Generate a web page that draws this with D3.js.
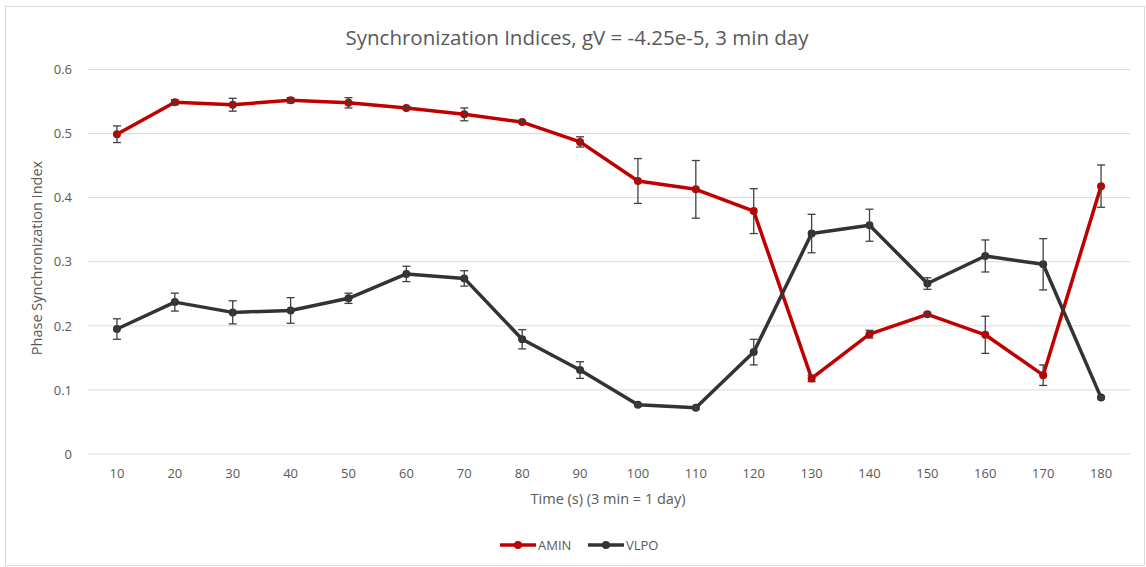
<!DOCTYPE html>
<html>
<head>
<meta charset="utf-8">
<script src="https://cdn.jsdelivr.net/npm/d3@7"></script>
<style>
  body { margin: 0; background: white; }
  text { font-family: "Open Sans", "Noto Sans", sans-serif; fill: #595959; }
</style>
</head>
<body>
<div id="chart"></div>
<script>
var width = 1146,
    height = 567

// data
var times = [10, 20, 30, 40, 50, 60, 70, 80, 90, 100, 110, 120, 130, 140, 150, 160, 170, 180]
var amin = [0.499, 0.549, 0.545, 0.552, 0.548, 0.540, 0.530, 0.518, 0.487, 0.426, 0.413, 0.379, 0.118, 0.187, 0.218, 0.186, 0.123, 0.418]
var aminErr = [0.013, 0.004, 0.010, 0.004, 0.008, 0.002, 0.010, 0.002, 0.008, 0.035, 0.045, 0.035, 0.005, 0.006, 0.003, 0.029, 0.016, 0.033]
var vlpo = [0.195, 0.237, 0.221, 0.224, 0.243, 0.281, 0.274, 0.179, 0.131, 0.077, 0.072, 0.159, 0.344, 0.357, 0.266, 0.309, 0.296, 0.088]
var vlpoErr = [0.016, 0.014, 0.018, 0.020, 0.008, 0.012, 0.012, 0.015, 0.013, 0.002, 0.002, 0.020, 0.030, 0.025, 0.009, 0.025, 0.040, 0.002]
var yTicks = [0, 0.1, 0.2, 0.3, 0.4, 0.5, 0.6]

var series = [
  {name: "AMIN", values: amin, err: aminErr, color: "#c00000"},
  {name: "VLPO", values: vlpo, err: vlpoErr, color: "#333333"}
]

var svg = d3.select("#chart")
  .append("svg")
    .attr("width", width)
    .attr("height", height)

// outer chart border
svg.append("rect")
  .attr("x", 5.5).attr("y", 6.5)
  .attr("width", 1139).attr("height", 559)
  .attr("fill", "white")
  .attr("stroke", "#d9d9d9")

var x = d3.scaleBand()
  .domain(times)
  .range([88, 1130])

var y = d3.scaleLinear()
  .domain([0, 0.6])
  .range([454, 69.5])

// gridlines
svg.append("g")
  .selectAll("line")
  .data(yTicks)
  .enter()
  .append("line")
    .attr("x1", 88).attr("x2", 1130)
    .attr("y1", function(d) { return y(d) })
    .attr("y2", function(d) { return y(d) })
    .attr("stroke", "#d9d9d9")
    .attr("stroke-width", 1)

// y axis labels
var yAxis = svg.append("g")
  .attr("transform", "translate(88,0)")
  .call(d3.axisLeft(y).tickValues(yTicks).tickSize(0).tickPadding(16).tickFormat(function(d) { return d === 0 ? "0" : d3.format(".1f")(d) }))
yAxis.select(".domain").remove()
yAxis.selectAll("text").style("font-size", "13px").attr("fill", "#595959").style("font-family", "'Open Sans', sans-serif")

// x axis labels
var xAxis = svg.append("g")
  .attr("transform", "translate(0,454)")
  .call(d3.axisBottom(x).tickSize(0).tickPadding(15))
xAxis.select(".domain").remove()
xAxis.selectAll("text").style("font-size", "13px").attr("fill", "#595959").style("font-family", "'Open Sans', sans-serif")

// titles
svg.append("text")
  .attr("x", 577).attr("y", 45)
  .attr("text-anchor", "middle")
  .style("font-size", "20.5px")
  .text("Synchronization Indices, gV = -4.25e-5, 3 min day")

svg.append("text")
  .attr("x", 608).attr("y", 504)
  .attr("text-anchor", "middle")
  .style("font-size", "14.5px")
  .text("Time (s) (3 min = 1 day)")

svg.append("text")
  .attr("transform", "translate(42,258) rotate(-90)")
  .attr("text-anchor", "middle")
  .style("font-size", "14.5px")
  .text("Phase Synchronization Index")

var cx = function(i) { return x(times[i]) + x.bandwidth() / 2 }

var line = d3.line()
  .x(function(d, i) { return cx(i) })
  .y(function(d) { return y(d) })

series.forEach(function(s) {
  var g = svg.append("g")

  g.append("path")
    .datum(s.values)
    .attr("d", line)
    .attr("fill", "none")
    .attr("stroke", s.color)
    .attr("stroke-width", 3.5)
    .attr("stroke-linejoin", "round")

  g.selectAll("circle")
    .data(s.values)
    .enter()
    .append("circle")
      .attr("cx", function(d, i) { return cx(i) })
      .attr("cy", function(d) { return y(d) })
      .attr("r", 4)
      .attr("fill", s.color)

  // error bars
  var eb = g.selectAll(".err")
    .data(s.values)
    .enter()
    .append("g")
  eb.append("line")
    .attr("x1", function(d, i) { return cx(i) })
    .attr("x2", function(d, i) { return cx(i) })
    .attr("y1", function(d, i) { return y(d + s.err[i]) })
    .attr("y2", function(d, i) { return y(d - s.err[i]) })
    .attr("stroke", "#404040")
    .attr("stroke-width", 1.3)
  ;[1, -1].forEach(function(sign) {
    eb.append("line")
      .attr("x1", function(d, i) { return cx(i) - 4 })
      .attr("x2", function(d, i) { return cx(i) + 4 })
      .attr("y1", function(d, i) { return y(d + sign * s.err[i]) })
      .attr("y2", function(d, i) { return y(d + sign * s.err[i]) })
      .attr("stroke", "#404040")
      .attr("stroke-width", 1.3)
  })
})

// legend
var legendX = [500, 588]
series.forEach(function(s, i) {
  var lg = svg.append("g").attr("transform", "translate(" + legendX[i] + ",545)")
  lg.append("line")
    .attr("x1", 0).attr("x2", 36)
    .attr("stroke", s.color)
    .attr("stroke-width", 3.5)
  lg.append("circle")
    .attr("cx", 18).attr("r", 4)
    .attr("fill", s.color)
  lg.append("text")
    .attr("x", 38).attr("y", 5)
    .style("font-size", "13px")
    .text(s.name)
})
</script>
</body>
</html>
